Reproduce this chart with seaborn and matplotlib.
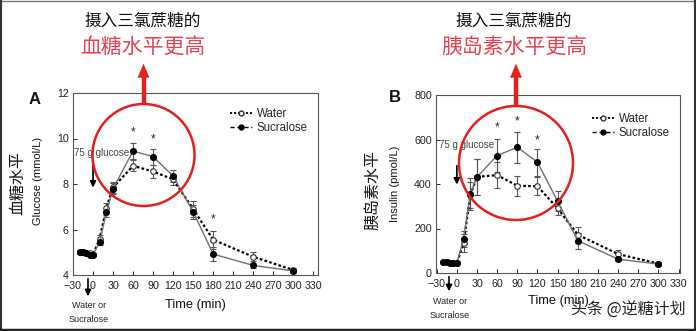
import matplotlib
matplotlib.use("Agg")
import matplotlib.pyplot as plt
import seaborn as sns
import pandas as pd
from matplotlib.patches import Ellipse
from matplotlib.lines import Line2D

# ---------------- data ----------------
time = [-20, -15, -10, -5, 0, 10, 20, 30, 60, 90, 120, 150, 180, 240, 300]

glu_water = [5.0, 5.0, 4.95, 4.95, 4.9, 5.6, 6.95, 7.85, 8.8, 8.55, 8.2, 6.9, 5.55, 4.8, 4.22]
glu_water_se = [0.08, 0.08, 0.08, 0.08, 0.08, 0.15, 0.2, 0.25, 0.25, 0.3, 0.25, 0.35, 0.4, 0.2, 0.1]
glu_sucr = [5.0, 5.0, 4.95, 4.9, 4.9, 5.45, 6.75, 7.8, 9.45, 9.2, 8.35, 6.78, 4.92, 4.42, 4.18]
glu_sucr_se = [0.08, 0.08, 0.08, 0.08, 0.08, 0.15, 0.2, 0.25, 0.35, 0.35, 0.25, 0.3, 0.3, 0.1, 0.1]

ins_water = [48, 48, 46, 45, 44, 135, 350, 432, 440, 392, 390, 290, 172, 85, 42]
ins_water_se = [5, 5, 5, 5, 5, 40, 60, 80, 60, 45, 40, 30, 35, 20, 8]
ins_sucr = [48, 48, 46, 45, 44, 152, 355, 432, 528, 565, 498, 322, 145, 62, 40]
ins_sucr_se = [5, 5, 5, 5, 5, 35, 70, 80, 75, 70, 60, 45, 35, 10, 8]

glu_star_t = [60, 90, 180]
glu_star_y = [10.25, 9.95, 6.45]
ins_star_t = [60, 90, 120]
ins_star_y = [655, 680, 598]

xticks = [-30, 0, 30, 60, 90, 120, 150, 180, 210, 240, 270, 300, 330]
glu_yticks = [4, 6, 8, 10, 12]
ins_yticks = [0, 200, 400, 600, 800]

# ---------------- style ----------------
sns.set_style("ticks")
plt.rcParams["font.family"] = ["Liberation Sans", "Noto Sans CJK SC", "DejaVu Sans"]
CJK = ["Noto Sans CJK SC", "DejaVu Sans"]
RED = "#e3201d"
TXTRED = "#e8414f"

W, H = 696, 331
fig = plt.figure(figsize=(W / 100, H / 100), dpi=100)


def ax_rect(l, r, t, b):
    return [l / W, 1 - b / H, (r - l) / W, (b - t) / H]


axA = fig.add_axes(ax_rect(73, 318, 93, 275))
axB = fig.add_axes(ax_rect(436, 680, 95, 273))


def draw_panel(ax, w, wse, s, sse, st, sy, yticks, ylim, xlim):
    dfw = pd.DataFrame({"t": time, "v": w})
    dfs = pd.DataFrame({"t": time, "v": s})
    ax.errorbar(time, s, yerr=sse, fmt="none", ecolor="#555555", elinewidth=0.8, capsize=2.2, capthick=0.8, zorder=2)
    ax.errorbar(time, w, yerr=wse, fmt="none", ecolor="#555555", elinewidth=0.8, capsize=2.2, capthick=0.8, zorder=2)
    sns.lineplot(data=dfs, x="t", y="v", ax=ax, color="#707070", lw=1.0, marker="o",
                 markersize=4.3, markerfacecolor="black", markeredgecolor="black", zorder=4)
    sns.lineplot(data=dfw, x="t", y="v", ax=ax, color="black", lw=1.6, ls=(0, (1.2, 1.0)), marker="o",
                 markersize=4.0, markerfacecolor="white", markeredgecolor="#333333", markeredgewidth=0.8, zorder=3)
    for t, y in zip(st, sy):
        ax.text(t, y, "*", ha="center", va="center", fontsize=8.5, color="#222222")
    ax.set_xlim(*xlim)
    ax.set_ylim(*ylim)
    ax.set_xticks(xticks)
    ax.set_yticks(yticks)
    ax.set_xlabel("")
    ax.set_ylabel("")
    ax.tick_params(direction="in", length=3, width=0.7, labelsize=7.7, colors="#222222")
    ax.tick_params(axis="x", pad=4)
    ax.tick_params(axis="y", pad=3)
    for sp in ax.spines.values():
        sp.set_visible(True)
        sp.set_color("#555555")
        sp.set_linewidth(0.8)
    handles = [
        Line2D([], [], color="black", lw=1.3, ls=(0, (1.2, 1.0)), marker="o", markersize=3.5,
               markerfacecolor="white", markeredgecolor="#333333"),
        Line2D([], [], color="black", lw=1.0, ls=(0, (3, 2)), marker="o", markersize=3.5,
               markerfacecolor="black", markeredgecolor="black"),
    ]
    return handles


hA = draw_panel(axA, glu_water, glu_water_se, glu_sucr, glu_sucr_se, glu_star_t, glu_star_y,
                glu_yticks, (4, 12), (-30, 337))
hB = draw_panel(axB, ins_water, ins_water_se, ins_sucr, ins_sucr_se, ins_star_t, ins_star_y,
                ins_yticks, (0, 800), (-31, 332))

axA.legend(hA, ["Water", "Sucralose"], loc="upper right", bbox_to_anchor=(0.99, 0.96), frameon=False,
           fontsize=8.3, handlelength=1.9, handletextpad=0.4, labelspacing=0.15, borderpad=0.2)
axB.legend(hB, ["Water", "Sucralose"], loc="upper right", bbox_to_anchor=(0.99, 0.945), frameon=False,
           fontsize=8.3, handlelength=1.9, handletextpad=0.4, labelspacing=0.15, borderpad=0.2)

# "75 g glucose" annotations inside axes
axA.text(-28, 9.38, "75 g glucose", fontsize=7, color="#444444", ha="left", va="center")
axA.annotate("", xy=(0, 7.72), xytext=(0, 8.95),
             arrowprops=dict(arrowstyle="-|>", color="black", lw=1.2, mutation_scale=9))
axB.text(-26, 574, "75 g glucose", fontsize=7, color="#444444", ha="left", va="center")
axB.annotate("", xy=(0, 385), xytext=(0, 495),
             arrowprops=dict(arrowstyle="-|>", color="black", lw=1.2, mutation_scale=9))

# ---------------- overlay in pixel coordinates ----------------
ov = fig.add_axes([0, 0, 1, 1], zorder=10)
ov.set_xlim(0, W)
ov.set_ylim(H, 0)
ov.axis("off")
ov.patch.set_alpha(0)

# figure border
ov.plot([1, W - 1], [0.5, 0.5], color="#777777", lw=1.0)
ov.plot([0.8, 0.8], [0, H], color="#333333", lw=1.5)
ov.plot([W - 0.8, W - 0.8], [0, H], color="#333333", lw=1.5)
ov.plot([0, W], [H - 1.5, H - 1.5], color="#222222", lw=2.5)

# red circles and arrows
for cx, cy, r, top in [(143.5, 155, 51, 104), (516, 163, 57, 106)]:
    ov.add_patch(Ellipse((cx, cy), 2 * r, 2 * r, fill=False, edgecolor=RED, lw=1.8))
    ov.plot([cx, cx], [top, 74], color=RED, lw=3.2, solid_capstyle="butt")
    ov.annotate("", xy=(cx, 61), xytext=(cx, 76),
                arrowprops=dict(arrowstyle="-|>,head_width=0.3,head_length=0.7", color=RED, lw=0.1,
                                mutation_scale=14))

# top texts
ov.text(143, 21, "摄入三氯蔗糖的", ha="center", va="center", fontsize=12, family=CJK, color="#111111")
ov.text(143, 47, "血糖水平更高", ha="center", va="center", fontsize=15, family=CJK, color=TXTRED)
ov.text(514, 21, "摄入三氯蔗糖的", ha="center", va="center", fontsize=12, family=CJK, color="#111111")
ov.text(514, 47, "胰岛素水平更高", ha="center", va="center", fontsize=15, family=CJK, color=TXTRED)

# panel labels
ov.text(35, 99, "A", ha="center", va="center", fontsize=12, fontweight="bold", color="#111111")
ov.text(395, 98, "B", ha="center", va="center", fontsize=12, fontweight="bold", color="#111111")

# y labels
ov.text(18, 183, "血糖水平", rotation=90, ha="center", va="center", fontsize=11.5, family=CJK, color="#111111")
ov.text(38, 181, "Glucose (mmol/L)", rotation=90, ha="center", va="center", fontsize=8, color="#111111")
ov.text(373, 190, "胰岛素水平", rotation=90, ha="center", va="center", fontsize=11.5, family=CJK, color="#111111")
ov.text(395, 184, "Insulin (pmol/L)", rotation=90, ha="center", va="center", fontsize=8, color="#111111")

# x labels
ov.text(195, 305, "Time (min)", ha="center", va="center", fontsize=9.3, color="#111111")
ov.text(558, 301, "Time (min)", ha="center", va="center", fontsize=9.3, color="#111111")

# water / sucralose arrows below axes
for x, y0, y1, ty1, ty2 in [(88, 276, 299, 306, 319), (449, 274, 294, 302, 315)]:
    ov.annotate("", xy=(x, y1), xytext=(x, y0),
                arrowprops=dict(arrowstyle="-|>", color="black", lw=1.2, mutation_scale=9))
    ov.text(x + 1, ty1, "Water or", ha="center", va="center", fontsize=6.5, color="#222222")
    ov.text(x + 1, ty2, "Sucralose", ha="center", va="center", fontsize=6.5, color="#222222")

# watermark
ov.text(686, 310, "头条 @逆糖计划", ha="right", va="center", fontsize=11.5, family=CJK, color="#222222")

fig.savefig("out.png", dpi=100, facecolor="white")
